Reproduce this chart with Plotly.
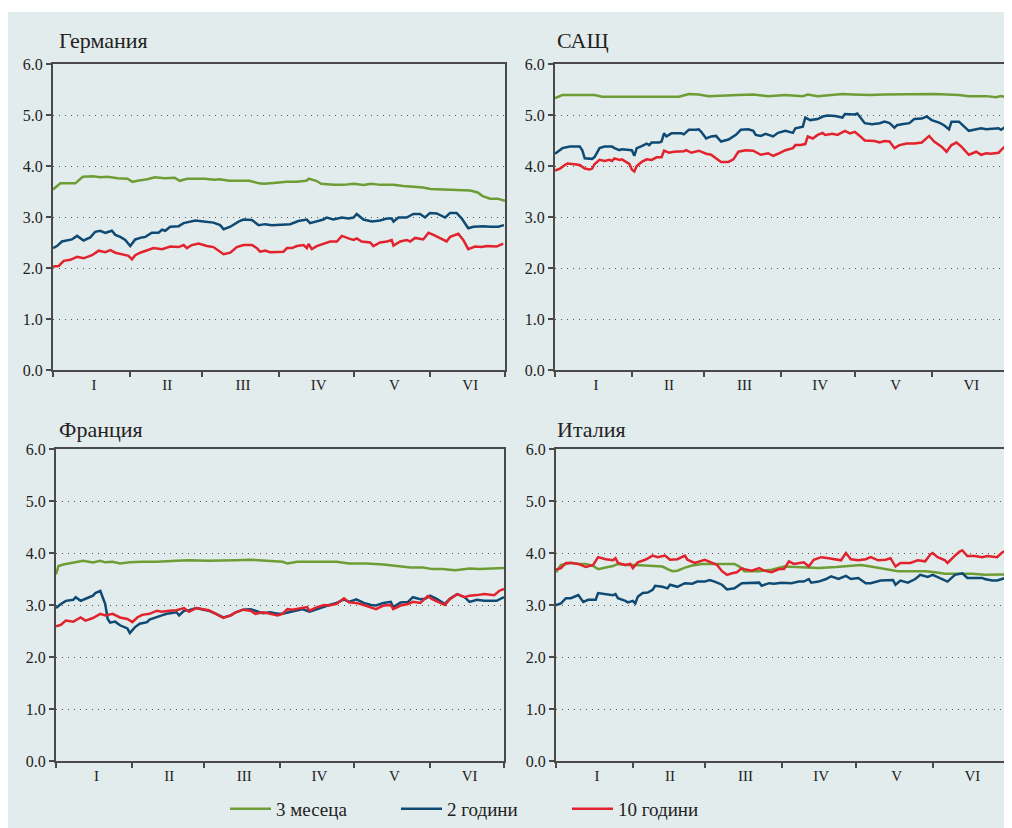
import plotly.graph_objects as go
import pandas as pd

# ---------------- data (day offset from 1 Jan 2024, yield %) ----------------
BASE = "2024-01-01"
MONTH_LABELS = ["I", "II", "III", "IV", "V", "VI"]
MONTH_STARTS = ["2024-01-01", "2024-02-01", "2024-03-01", "2024-04-01",
                "2024-05-01", "2024-06-01", "2024-07-01"]
LABEL_POS = ["2024-01-17 12:00", "2024-02-16", "2024-03-17 12:00",
             "2024-04-17", "2024-05-17 12:00", "2024-06-17"]
SERIES_NAMES = ["3 месеца", "2 години", "10 години"]
PANEL_TITLES = ["Германия", "САЩ", "Франция", "Италия"]

DE_3M = [(0,3.54),(3,3.66),(9,3.66),(12,3.79),(16,3.80),(19,3.78),(22,3.79),(26,3.76),(30,3.75),(32,3.69),
         (34,3.71),(38,3.74),(41,3.78),(45,3.76),(49,3.77),(51,3.71),(54,3.75),(58,3.75),(61,3.75),(65,3.73),
         (67,3.74),(71,3.71),(75,3.71),(79,3.71),(83,3.66),(85,3.65),(90,3.67),(94,3.69),(98,3.69),(102,3.71),
         (103,3.75),(106,3.71),(108,3.65),(113,3.63),(117,3.63),(121,3.65),(125,3.63),(128,3.65),(132,3.63),
         (137,3.63),(141,3.61),(145,3.59),(149,3.58),(152,3.55),(156,3.54),(160,3.54),(164,3.53),(168,3.52),
         (171,3.48),(173,3.41),(176,3.36),(179,3.36),(182,3.32)]
DE_2Y = [(0,2.39),(1.6,2.43),(3.6,2.52),(7,2.55),(7.6,2.56),(9.7,2.63),(11.7,2.55),(12.3,2.54),(15,2.60),(17,2.71),
         (19,2.73),(21.1,2.69),(23.7,2.73),(25.1,2.65),(27.1,2.61),(29.1,2.55),(31.1,2.43),(33.1,2.56),(35.8,2.60),
         (37.2,2.61),(39.8,2.69),(42.5,2.69),(43.9,2.75),(45.2,2.73),(47.2,2.81),(50.6,2.82),(52.6,2.88),(53.9,2.89),
         (57.3,2.93),(60.6,2.91),(64.6,2.89),(67.3,2.84),(68.7,2.76),(71.4,2.81),(74.7,2.91),(76.7,2.95),(80.1,2.94),
         (82.8,2.84),(85.4,2.86),(88.1,2.84),(92.8,2.85),(95.5,2.86),(98.8,2.92),(100.9,2.93),(102.2,2.95),(103.5,2.88),
         (106.2,2.92),(108.9,2.95),(110.2,2.99),(112.9,2.95),(116.3,2.99),(119,2.97),(121,2.99),(122.3,3.06),(125,2.95),
         (128.4,2.91),(131.7,2.93),(134.4,2.97),(136.4,2.97),(137.1,2.91),(139.1,2.99),(142.4,2.99),(145.1,3.06),
         (147.8,3.06),(149.8,2.99),(151.8,3.08),(154.5,3.07),(157.9,2.99),(159.9,3.08),(162.5,3.08),(164.6,2.97),
         (165.9,2.88),(167.2,2.78),(169.3,2.81),(173.3,2.82),(176,2.81),(179.3,2.81),(181.6,2.84)]
DE_10Y = [(0,2.03),(2.3,2.04),(4.3,2.14),(7,2.16),(9.7,2.22),(12.3,2.19),(15.7,2.25),(18.4,2.34),(21.1,2.31),
          (23.1,2.35),(25.1,2.30),(27.8,2.27),(30.4,2.24),(31.8,2.17),(33.1,2.25),(35.1,2.30),(37.8,2.34),(40.5,2.39),
          (43.9,2.37),(47.2,2.42),(50.6,2.41),(52.6,2.45),(53.9,2.39),(55.9,2.45),(58.6,2.48),(62,2.43),(64.6,2.41),
          (67.3,2.32),(68.7,2.27),(71.4,2.30),(74,2.41),(76.7,2.45),(80.1,2.45),(82.1,2.39),(83.4,2.32),(85.4,2.34),
          (87.4,2.31),(92.8,2.32),(94.2,2.39),(96.2,2.39),(98.2,2.43),(100.9,2.45),(102.2,2.39),(102.9,2.47),
          (104.2,2.37),(106.2,2.43),(108.9,2.48),(111.6,2.52),(114.3,2.52),(116.3,2.63),(119,2.58),(121,2.55),
          (122.3,2.58),(124.3,2.52),(127.7,2.50),(129,2.43),(131.7,2.50),(134.4,2.52),(136.4,2.55),(137.1,2.44),
          (139.8,2.52),(142.4,2.55),(143.8,2.52),(145.8,2.59),(149.1,2.56),(151.2,2.69),(153.2,2.65),(155.8,2.59),
          (158.5,2.52),(159.9,2.61),(163.2,2.67),(165.2,2.55),(167.2,2.37),(169.9,2.42),(172.6,2.41),(174.6,2.43),
          (178.6,2.42),(181.3,2.48)]

US_3M = [(0,5.33),(3,5.39),(16,5.39),(19,5.36),(50,5.36),(54,5.41),(58,5.40),(62,5.37),(74,5.39),(80,5.40),
         (86,5.37),(93,5.39),(100,5.37),(102,5.40),(106,5.37),(113,5.40),(116,5.41),(120,5.40),(127,5.39),
         (133,5.40),(147,5.40),(153,5.41),(163,5.39),(167,5.37),(174,5.37),(178,5.35),(180,5.37),(182,5.35)]
US_2Y = [(0,4.24),(3,4.35),(6,4.38),(10,4.38),(11,4.31),(12,4.15),(15,4.14),(16,4.18),(18,4.35),(20,4.38),
         (23,4.38),(24,4.35),(26,4.31),(27,4.33),(29,4.32),(31,4.31),(32,4.20),(33,4.35),(35,4.39),(37,4.44),
         (38,4.41),(39,4.46),(42,4.46),(43,4.48),(44,4.64),(45,4.58),(47,4.64),(51,4.64),(52,4.62),(54,4.71),
         (57,4.71),(58,4.72),(59,4.67),(61,4.54),(63,4.58),(65,4.59),(67,4.48),(70,4.52),(73,4.61),(75,4.71),
         (78,4.72),(80,4.69),(81,4.61),(83,4.59),(85,4.63),(88,4.58),(90,4.65),(93,4.69),(96,4.65),(97,4.74),
         (100,4.77),(101,4.95),(103,4.90),(106,4.92),(108,4.97),(110,4.99),(113,4.98),(116,4.95),(117,5.02),
         (121,5.01),(122,5.03),(125,4.84),(128,4.82),(131,4.84),(133,4.87),(135,4.84),(137,4.75),(138,4.80),
         (140,4.82),(143,4.84),(145,4.92),(148,4.93),(150,4.97),(152,4.90),(155,4.85),(157,4.80),(159,4.72),
         (160,4.87),(163,4.87),(165,4.77),(167,4.69),(170,4.72),(172,4.74),(174,4.72),(176,4.73),(179,4.74),
         (180,4.71),(181.5,4.76)]
US_10Y = [(0,3.91),(2,3.95),(4,4.02),(5,4.05),(7,4.04),(10,4.02),(12,3.95),(14,3.93),(15,3.95),(16,4.04),
          (18,4.12),(20,4.10),(22,4.12),(23,4.10),(24,4.15),(26,4.12),(27,4.13),(29,4.08),(30,4.04),(31,3.93),
          (32,3.89),(33,4.00),(35,4.08),(37,4.13),(39,4.12),(41,4.17),(43,4.17),(44,4.30),(46,4.26),(48,4.28),
          (52,4.29),(53,4.31),(55,4.26),(58,4.30),(61,4.24),(63,4.22),(65,4.15),(67,4.08),(70,4.08),(72,4.13),
          (74,4.28),(77,4.31),(80,4.30),(83,4.22),(86,4.25),(88,4.20),(90,4.24),(93,4.31),(96,4.35),(97,4.41),
          (99,4.41),(101,4.43),(102,4.58),(104,4.54),(106,4.61),(108,4.65),(109,4.61),(112,4.63),(114,4.61),
          (117,4.69),(119,4.64),(121,4.67),(123,4.59),(125,4.50),(129,4.49),(131,4.46),(133,4.49),(135,4.48),
          (137,4.35),(139,4.41),(142,4.44),(145,4.44),(148,4.46),(151,4.59),(153,4.48),(156,4.38),(158,4.28),
          (160,4.41),(162,4.46),(164,4.38),(167,4.22),(170,4.28),(172,4.22),(174,4.25),(176,4.24),(179,4.26),
          (180,4.31),(181.5,4.38)]

FR_3M = [(0,3.59),(1,3.75),(3,3.78),(8,3.83),(11,3.85),(15,3.82),(18,3.85),(20,3.82),(23,3.83),(26,3.80),
         (30,3.82),(35,3.83),(41,3.83),(49,3.85),(54,3.86),(62,3.85),(68,3.85),(73,3.86),(79,3.87),(84,3.85),
         (92,3.83),(94,3.80),(98,3.83),(106,3.83),(114,3.83),(119,3.80),(126,3.80),(133,3.78),(140,3.75),
         (144,3.72),(149,3.72),(153,3.69),(157,3.69),(162,3.67),(164,3.68),(168,3.70),(172,3.69),(176,3.70),
         (182,3.71)]
FR_2Y = [(0,2.94),(2,3.02),(4,3.08),(7,3.10),(8,3.15),(10,3.08),(12,3.12),(15,3.18),(16,3.23),(18,3.27),
         (20,3.02),(21,2.73),(22,2.66),(24,2.68),(26,2.61),(29,2.55),(30,2.46),(32,2.57),(34,2.64),(37,2.67),
         (38,2.72),(41,2.76),(43,2.80),(45,2.83),(47,2.85),(49,2.86),(50,2.80),(52,2.89),(54,2.90),(57,2.94),
         (60,2.91),(62,2.89),(65,2.83),(68,2.76),(71,2.80),(73,2.86),(76,2.91),(79,2.92),(81,2.89),(84,2.84),
         (87,2.86),(90,2.83),(92,2.83),(95,2.86),(98,2.89),(100,2.92),(103,2.87),(106,2.92),(109,2.98),
         (111,3.00),(114,3.04),(117,3.11),(119,3.06),(122,3.11),(125,3.04),(128,3.00),(130,2.99),(133,3.04),
         (136,3.06),(137,2.96),(140,3.05),(143,3.06),(145,3.15),(148,3.11),(150,3.12),(152,3.18),(155,3.11),
         (158,3.02),(160,3.12),(163,3.21),(166,3.15),(168,3.06),(171,3.10),(174,3.08),(179,3.08),(182,3.15)]
FR_10Y = [(0,2.59),(2,2.62),(4,2.70),(7,2.68),(10,2.76),(12,2.70),(15,2.75),(18,2.83),(20,2.80),(23,2.83),
          (26,2.76),(29,2.73),(31,2.67),(33,2.76),(35,2.81),(38,2.83),(41,2.89),(43,2.87),(46,2.89),(49,2.90),
          (52,2.94),(54,2.87),(57,2.94),(60,2.91),(62,2.90),(65,2.83),(68,2.75),(71,2.80),(73,2.86),(76,2.91),
          (79,2.89),(81,2.83),(84,2.86),(87,2.83),(90,2.80),(92,2.83),(94,2.92),(96,2.91),(99,2.94),(102,2.96),
          (103,2.89),(106,2.96),(109,3.00),(111,2.99),(114,3.02),(117,3.13),(119,3.05),(122,3.04),(125,3.00),
          (128,2.96),(130,2.92),(133,2.99),(136,3.00),(137,2.92),(140,2.99),(143,3.02),(145,3.06),(148,3.04),
          (151,3.17),(153,3.11),(156,3.05),(158,3.00),(160,3.11),(163,3.21),(166,3.15),(168,3.18),(171,3.19),
          (174,3.21),(178,3.19),(180,3.27),(182,3.31)]

IT_3M = [(0,3.63),(2,3.77),(4,3.79),(6,3.81),(9,3.79),(12,3.79),(15,3.75),(17,3.69),(20,3.72),(23,3.75),
         (25,3.79),(28,3.77),(32,3.77),(36,3.76),(39,3.74),(43,3.74),(45,3.69),(47,3.65),(49,3.66),(52,3.72),
         (55,3.76),(59,3.79),(63,3.79),(68,3.79),(72,3.79),(74,3.74),(76,3.65),(82,3.65),(87,3.68),(92,3.74),
         (99,3.73),(106,3.71),(113,3.73),(119,3.75),(123,3.77),(127,3.74),(133,3.69),(138,3.65),(143,3.65),
         (149,3.65),(153,3.63),(157,3.60),(162,3.60),(168,3.60),(173,3.58),(178,3.58),(182,3.59)]
IT_2Y = [(0,3.00),(2,3.03),(4,3.13),(6,3.13),(9,3.19),(11,3.06),(13,3.10),(16,3.10),(17,3.23),(20,3.21),
         (23,3.19),(24,3.21),(25,3.13),(28,3.08),(29,3.05),(31,3.08),(32,3.03),(33,3.16),(35,3.23),(37,3.24),
         (39,3.29),(40,3.37),(43,3.35),(45,3.32),(46,3.39),(49,3.35),(52,3.42),(55,3.41),(57,3.45),(60,3.45),
         (62,3.48),(64,3.45),(67,3.39),(69,3.30),(72,3.32),(75,3.42),(79,3.42),(82,3.43),(83,3.37),(86,3.42),
         (88,3.41),(91,3.43),(95,3.42),(98,3.45),(100,3.45),(102,3.50),(103,3.43),(106,3.45),(109,3.50),
         (111,3.55),(114,3.50),(117,3.56),(119,3.50),(122,3.52),(125,3.42),(127,3.42),(131,3.47),(134,3.47),
         (136,3.48),(137,3.39),(139,3.47),(142,3.43),(145,3.50),(147,3.58),(150,3.54),(152,3.58),(155,3.52),
         (158,3.45),(161,3.58),(164,3.61),(166,3.52),(169,3.52),(172,3.52),(173,3.50),(176,3.47),(178,3.47),
         (182,3.53)]
IT_10Y = [(0,3.68),(2,3.71),(4,3.81),(6,3.81),(9,3.79),(12,3.73),(15,3.77),(17,3.92),(20,3.88),(23,3.86),
          (24,3.90),(25,3.81),(28,3.77),(30,3.79),(31,3.71),(33,3.82),(36,3.87),(39,3.95),(41,3.92),(44,3.95),
          (46,3.87),(49,3.88),(52,3.95),(53,3.87),(56,3.81),(60,3.87),(63,3.81),(65,3.77),(67,3.65),(69,3.58),
          (71,3.61),(73,3.63),(75,3.71),(76,3.69),(79,3.66),(82,3.71),(84,3.66),(87,3.63),(90,3.69),(92,3.69),
          (94,3.84),(96,3.79),(100,3.82),(102,3.74),(104,3.87),(107,3.92),(110,3.90),(113,3.87),(115,3.86),
          (117,4.00),(119,3.88),(122,3.86),(125,3.88),(127,3.92),(130,3.86),(133,3.87),(135,3.90),(137,3.74),
          (139,3.81),(143,3.81),(146,3.86),(149,3.84),(151,3.97),(152,4.00),(154,3.92),(157,3.86),(158,3.81),
          (161,3.95),(163,4.03),(164,4.05),(166,3.94),(169,3.94),(172,3.92),(174,3.94),(178,3.92),(180,4.01),
          (182,4.05)]

PANELS = [(DE_3M, DE_2Y, DE_10Y), (US_3M, US_2Y, US_10Y),
          (FR_3M, FR_2Y, FR_10Y), (IT_3M, IT_2Y, IT_10Y)]

# ---------------- styling ----------------
OFF = 8                      # page body margin of the html page
W, H = 1012 - OFF, 828 - OFF  # figure size so that it exactly fills the window
BG = "#e3ecec"
AXIS = "#4a4a4a"
TXT = "#222222"
COLORS = ["#6e9c35", "#0f4a74", "#e2222d"]
FONT = "Liberation Serif"

# plot areas in window pixels: (left, right, top, bottom)
BOXES = [(53, 505, 64, 370), (555, 1006, 64, 370),
         (56, 504, 449, 761), (556, 1007, 449, 761)]
TITLE_POS = [(57, 40), (555, 40), (57, 429), (555, 429)]


def px(x):
    return (x - OFF) / W


def py(y):
    return (H - (y - OFF)) / H


base = pd.Timestamp(BASE)


def to_xy(pairs):
    xs = [base + pd.Timedelta(days=d) for d, _ in pairs]
    ys = [v for _, v in pairs]
    return xs, ys


fig = go.Figure()
layout = dict(
    width=W, height=H, margin=dict(l=0, r=0, t=0, b=0, autoexpand=False),
    paper_bgcolor="white", plot_bgcolor=BG,
    font=dict(family=FONT, size=16, color=TXT),
    showlegend=True,
    legend=dict(orientation="h", x=px(225), xanchor="left", y=0.0, yanchor="bottom",
                itemwidth=41, entrywidth=115, entrywidthmode="pixels",
                bgcolor="rgba(0,0,0,0)", tracegroupgap=0,
                font=dict(family=FONT, size=19, color=TXT), itemclick=False),
    shapes=[dict(type="rect", xref="paper", yref="paper", x0=0, x1=1, y0=0, y1=py(12),
                 fillcolor=BG, line=dict(width=0), layer="below")],
    annotations=[],
)

for i, (box, series) in enumerate(zip(BOXES, PANELS)):
    l, r, t, b = box
    sfx = "" if i == 0 else str(i + 1)
    layout["xaxis" + sfx] = dict(
        domain=[px(l), px(r)], anchor="y" + sfx, type="date",
        range=[MONTH_STARTS[0], MONTH_STARTS[-1]],
        tickmode="array", tickvals=LABEL_POS, ticktext=MONTH_LABELS, ticks="",
        showgrid=False, zeroline=False, showline=True, mirror=True,
        linecolor=AXIS, linewidth=2, tickfont=dict(size=15, color=TXT),
        minor=dict(tickmode="array", tickvals=MONTH_STARTS, ticks="outside", ticklen=5,
                   tickwidth=2, tickcolor=AXIS, showgrid=False),
        fixedrange=True,
    )
    layout["yaxis" + sfx] = dict(
        domain=[py(b), py(t)], anchor="x" + sfx,
        range=[0, 6], tick0=0, dtick=1, tickformat=".1f",
        ticks="outside", ticklen=5, tickwidth=2, tickcolor=AXIS,
        showgrid=True, gridcolor="#555555", gridwidth=1, griddash="1px,5px",
        zeroline=False, showline=True, mirror=True, linecolor=AXIS, linewidth=2,
        tickfont=dict(size=16, color=TXT), fixedrange=True,
    )
    tx, ty = TITLE_POS[i]
    layout["annotations"].append(dict(
        text=PANEL_TITLES[i], xref="paper", yref="paper", x=px(tx), y=py(ty),
        xanchor="left", yanchor="middle", showarrow=False,
        font=dict(family=FONT, size=22, color=TXT)))
    for k, pairs in enumerate(series):
        xs, ys = to_xy(pairs)
        fig.add_trace(go.Scatter(
            x=xs, y=ys, mode="lines", name=SERIES_NAMES[k],
            line=dict(color=COLORS[k], width=2.5),
            xaxis="x" + sfx, yaxis="y" + sfx,
            showlegend=(i == 0), legendgroup=SERIES_NAMES[k], hoverinfo="skip"))

fig.update_layout(**layout)
fig.write_html("out.html")
